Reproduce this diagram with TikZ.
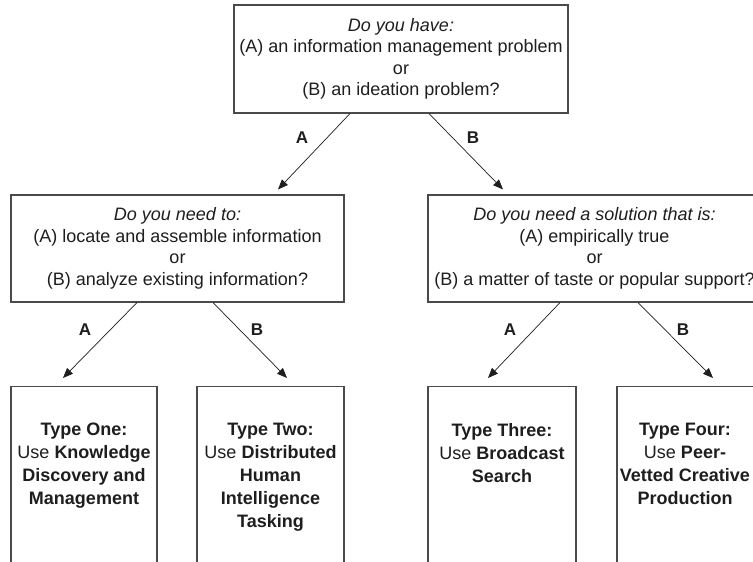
\documentclass[tikz,border=0pt]{standalone}
\usepackage{fontspec}
\setmainfont{Liberation Sans}
\usetikzlibrary{arrows.meta,calc}
\definecolor{boxc}{HTML}{4A4A4A}
\definecolor{txt}{HTML}{1E1E1E}
\begin{document}
\begin{tikzpicture}[x=1pt,y=-1pt,
  qbox/.style={draw=boxc, line width=1.1pt, align=center, text=txt,
    font=\fontsize{18}{21.5}\selectfont, inner sep=0pt},
  tbox/.style={draw=boxc, line width=1.1pt, inner sep=0pt, minimum height=240pt, anchor=north},
  ttext/.style={align=center, font=\fontsize{18}{23}\selectfont, inner sep=0pt, anchor=north, text=txt},
  arr/.style={line width=0.7pt, draw=txt, -{Triangle[length=10pt,width=8pt]}},
  lab/.style={font=\fontsize{17}{20}\selectfont\bfseries, inner sep=0pt, text=txt}]
\useasboundingbox (0,0) rectangle (753,562);
\clip (0,0) rectangle (753,562);
\fill[white] (0,0) rectangle (753,562);

% question boxes
\node[qbox, minimum width=334pt, minimum height=108pt] (q1) at (401,59)
  {\textit{Do you have:}\\(A) an information management problem\\or\\(B) an ideation problem?};
\node[qbox, minimum width=333pt, minimum height=107pt] (m1) at (177.5,248.5)
  {\textit{Do you need to:}\\(A) locate and assemble information\\or\\(B) analyze existing information?};
\node[qbox, minimum width=333pt, minimum height=107pt] (m2) at (594.5,248.5)
  {\textit{Do you need a solution that is:}\\(A) empirically true\\or\\(B) a matter of taste or popular support?};

% type boxes
\node[tbox, minimum width=146pt] (b1) at (84,386) {};
\node[tbox, minimum width=147pt] (b2) at (270.5,386) {};
\node[tbox, minimum width=148pt] (b3) at (502,386) {};
\node[tbox, minimum width=147pt] (b4) at (690.5,386) {};

\node[ttext] (b1t) at (84,423) {\textbf{Type One:}\\Use \textbf{Knowledge}\\\textbf{Discovery and}\\\textbf{Management}};
\node[ttext] (b2t) at (270.5,423) {\textbf{Type Two:}\\Use \textbf{Distributed}\\\textbf{Human}\\\textbf{Intelligence}\\\textbf{Tasking}};
\node[ttext] (b3t) at (502,423) {\textbf{Type Three:}\\Use \textbf{Broadcast}\\\textbf{Search}};
\node[ttext] (b4t) at (685,423) {\textbf{Type Four:}\\Use \textbf{Peer-}\\\textbf{Vetted Creative}\\\textbf{Production}};

% connectors
\draw[arr] ($(q1.south)+(-51,0)$) -- ($(m1.north)+(100.5,-5)$);
\draw[arr] ($(q1.south)+(28,0)$) -- ($(m2.north)+(-91.5,-5)$);
\draw[arr] ($(m1.south)+(-40.5,0)$) -- ($(b1.north)+(-21,-8)$);
\draw[arr] ($(m1.south)+(35.5,0)$) -- ($(b2.north)+(16.5,-8)$);
\draw[arr] ($(m2.south)+(-34.5,0)$) -- ($(b3.north)+(-14,-8)$);
\draw[arr] ($(m2.south)+(43.5,0)$) -- ($(b4.north)+(22.5,-8)$);

% labels
\node[lab] (la1) at (302,138) {A};
\node[lab] (lb1) at (473,138) {B};
\node[lab] (la2) at (85,330) {A};
\node[lab] (lb2) at (257,330) {B};
\node[lab] (la3) at (510,330) {A};
\node[lab] (lb3) at (683,330) {B};
\end{tikzpicture}
\end{document}
